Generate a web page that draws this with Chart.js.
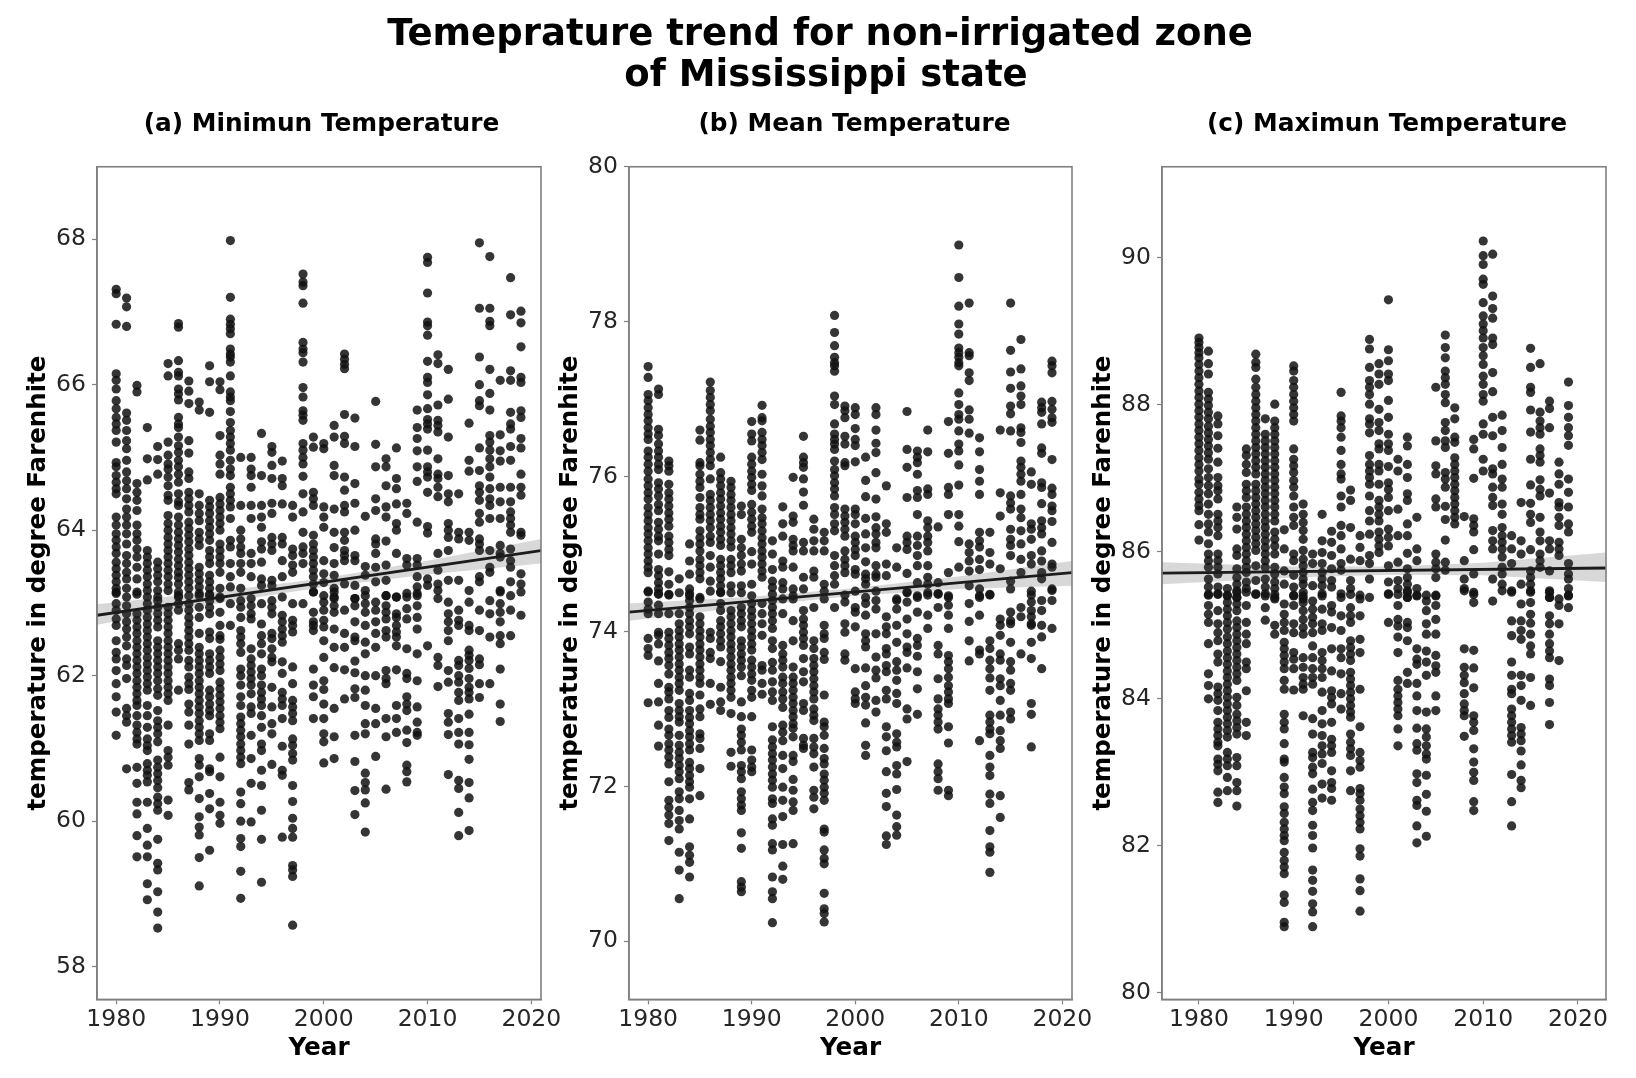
<!DOCTYPE html>
<html>
<head>
<meta charset="utf-8">
<script src="https://cdn.jsdelivr.net/npm/chart.js@4"></script>
<style>
html,body{margin:0;padding:0;background:#fff;width:1636px;height:1078px;overflow:hidden}
#wrap{position:relative;width:1636px;height:1078px;overflow:hidden;filter:blur(0.6px)}
canvas{position:absolute;top:0}
.sup{position:absolute;left:0;width:1640px;text-align:center;font:bold 37px "DejaVu Sans";color:#000;line-height:41px}
.sup span{position:relative;left:6px}
</style>
</head>
<body>
<div id="wrap">
<div class="sup" style="top:12px;z-index:5">Temeprature trend for non-irrigated zone<br><span>of Mississippi state</span></div>
<canvas id="c0" width="643" height="1078" style="left:0"></canvas>
<canvas id="c1" width="645" height="1078" style="left:532px"></canvas>
<canvas id="c2" width="644" height="1078" style="left:1065px"></canvas>
</div>
<script>
const suptitle = "Temeprature trend for non-irrigated zone of Mississippi state";
const years = [1980,1981,1982,1983,1984,1985,1986,1987,1988,1989,1990,1991,1992,1993,1994,1995,1996,1997,1998,1999,2000,2001,2002,2003,2004,2005,2006,2007,2008,2009,2010,2011,2012,2013,2014,2015,2016,2017,2018,2019];
const panelTitles = ["(a) Minimun Temperature","(b) Mean Temperature","(c) Maximun Temperature"];
const xLabel = "Year";
const yLabel = "temperature in degree Farenhite";

const minTemp = [
[67.31,67.25,66.83,66.15,66.06,65.94,65.78,65.67,65.55,65.46,65.37,65.21,64.93,64.87,64.75,64.66,64.57,64.5,64.18,64.07,63.95,63.86,63.77,63.68,63.56,63.47,63.38,63.29,63.2,63.13,63.15,62.99,62.9,62.78,62.69,62.48,62.32,62.23,62.07,61.89,61.71,61.5,61.18],
[67.19,67.07,66.8,65.61,65.51,65.37,65.23,65.12,64.96,64.8,64.68,64.57,64.43,64.29,64.18,64.07,63.95,63.81,63.65,63.54,63.42,63.33,63.2,63.08,62.96,62.85,62.74,62.64,62.53,62.41,62.23,62.14,61.96,61.55,61.45,61.36,60.72],
[65.99,65.9,64.64,64.52,64.41,64.27,64.07,63.95,63.86,63.74,63.63,63.49,63.33,63.15,63.12,62.85,62.76,62.67,62.58,62.48,62.39,62.3,62.21,62.12,62.03,61.93,61.84,61.75,61.66,61.59,61.45,61.32,61.22,61.13,61.06,60.74,60.52,60.26,60.1,59.8,59.51],
[65.41,64.98,64.69,63.72,63.63,63.54,63.45,63.36,63.26,63.17,63.08,62.99,62.9,62.8,62.71,62.62,62.53,62.44,62.35,62.25,62.16,62.07,61.98,61.89,61.8,61.59,61.45,61.29,61.13,61.04,60.97,60.79,60.7,60.63,60.54,60.26,59.9,59.67,59.51,59.14,58.92],
[65.15,64.97,64.77,63.56,63.47,63.38,63.29,63.17,63.08,63.03,62.94,62.85,62.76,62.67,62.48,62.39,62.3,62.21,62.12,62.03,61.93,61.82,61.73,61.52,61.38,61.29,61.2,61.09,60.84,60.74,60.65,60.56,60.46,60.33,60.24,60.15,59.75,59.42,59.33,59.03,58.75,58.53],
[66.29,66.12,65.21,65.03,64.91,64.84,64.73,64.61,64.48,64.41,64.2,64.09,64.0,63.9,63.81,63.72,63.63,63.54,63.45,63.36,63.26,63.17,62.94,62.85,62.76,62.67,62.58,62.48,62.39,62.3,62.21,62.12,62.03,61.93,61.84,61.75,61.66,61.32,60.97,60.88,60.77,60.29,60.08],
[66.84,66.79,66.33,66.17,66.12,65.94,65.87,65.79,65.55,65.46,65.41,65.28,65.16,65.07,64.96,64.87,64.77,64.66,64.5,64.39,64.34,64.18,64.07,63.97,63.88,63.79,63.7,63.6,63.51,63.42,63.35,63.26,63.15,63.08,63.1,62.99,62.9,62.44,62.35,62.23,61.8],
[66.05,65.91,65.74,65.23,65.06,64.8,64.71,64.52,64.43,64.34,64.25,64.11,64.02,63.93,63.84,63.74,63.65,63.56,63.47,63.38,63.29,63.2,63.1,62.99,62.9,62.8,62.71,62.62,62.53,62.44,62.35,62.21,62.12,61.98,61.89,61.81,61.61,61.5,61.32,61.06,60.53,60.43],
[65.76,65.65,64.5,64.34,64.23,64.13,63.97,63.88,63.79,63.49,63.4,63.31,63.22,63.13,63.1,62.94,62.8,62.58,62.39,62.3,62.21,62.12,62.03,61.93,61.84,61.75,61.66,61.57,61.48,61.38,61.29,61.2,61.11,60.86,60.77,60.61,60.31,60.06,59.92,59.81,59.5,59.11],
[66.26,66.04,65.62,64.41,64.32,64.23,64.13,64.04,63.95,63.86,63.72,63.63,63.54,63.38,63.29,63.2,63.1,63.12,63.03,62.94,62.85,62.6,62.51,62.3,62.21,62.12,62.03,61.8,61.71,61.61,61.52,61.45,61.2,61.11,60.72,60.68,60.38,60.17,59.6],
[66.04,65.93,65.3,65.03,64.91,64.77,64.45,64.36,64.27,64.18,64.09,64,63.81,63.72,63.63,63.54,63.42,63.2,63.08,63.06,62.87,62.69,62.55,62.5,62.35,62.25,62.16,62.07,61.91,61.82,61.73,61.64,61.55,61.45,61.36,61.27,60.88,60.61,60.26,60.08,59.97],
[67.98,67.2,66.9,66.83,66.77,66.7,66.49,66.42,66.38,66.31,66.12,65.9,65.83,65.78,65.63,65.48,65.37,65.28,65.19,65.1,64.96,64.84,64.75,64.59,64.5,64.41,64.32,64.16,63.86,63.77,63.54,63.36,63.22,62.99,62.69],
[65,64.34,64,63.88,63.77,63.68,63.54,63.42,63.2,63.03,62.94,62.8,62.62,62.53,62.44,62.32,62.09,62,61.87,61.71,61.59,61.43,61.34,61.25,61.16,61.06,60.97,60.88,60.79,60.4,60.24,60,59.76,59.65,59.31,58.94],
[65,64.84,64.75,64.59,64.34,64.16,63.68,63.54,63.36,63.06,62.96,62.85,62.78,62.37,62.23,62.14,62.05,61.96,61.87,61.75,61.57,61.48,61.18,60.86,60.52,59.99],
[65.33,64.75,64.34,64.18,64.04,63.84,63.74,63.56,63.33,63.24,62.99,62.71,62.55,62.44,62.3,62.09,62,61.87,61.77,61.68,61.59,61.45,61.29,61.06,60.97,60.7,60.49,60.15,59.75,59.16],
[65.15,65.07,64.89,64.71,64.37,64.23,63.9,63.81,63.72,63.31,63.24,63.03,62.94,62.85,62.58,62.51,62.37,62.25,62.19,61.84,61.57,61.34,61.2,60.78],
[64.95,64.71,64.61,64.36,63.9,63.81,63.58,63.36,63.08,62.83,62.74,62.64,62.55,62.46,62.19,62.03,61.77,61.68,61.59,61.41,61.03,60.7,60.63,59.78],
[64.34,64.18,63.74,63.65,63.52,63.42,62.99,62.76,62.69,62.6,62.12,61.89,61.66,61.57,61.48,61.38,61.13,61.04,60.93,60.84,60.49,60.27,60.04,59.9,59.78,59.39,59.33,59.24,58.57],
[67.52,67.41,67.36,67.12,66.58,66.49,66.44,66.31,65.96,65.83,65.64,65.58,65.51,65.19,65.1,65.0,64.91,64.74,64.5,64.25,63.97,63.77,63.68,63.54,62.99],
[65.28,65.14,64.52,64.43,64.34,63.93,63.81,63.72,63.63,63.54,63.45,63.36,63.26,63.15,63.15,62.87,62.74,62.69,62.62,62.09,61.87,61.71,61.41],
[65.19,65.12,64.32,64.18,64.04,63.58,63.4,63.28,63.1,63.01,62.9,62.76,62.67,62.48,62.25,61.93,61.81,61.61,61.41,61.2,61.09,60.8],
[65.44,65.28,64.89,64.75,64.29,63.97,63.76,63.54,63.38,63.2,63.08,63.15,63.06,62.96,62.87,62.64,62.39,62.11,61.55,61.16,60.86],
[66.42,66.35,66.28,66.22,65.59,65.29,65.19,64.73,64.55,64.34,64.25,63.97,63.86,63.72,63.65,63.58,63.26,62.9,62.58,62.39,62.08,61.68],
[65.54,65.15,64.64,64.37,64,63.65,63.58,63.24,63.06,63.06,62.96,62.74,62.53,62.48,62.2,62.04,61.82,61.7,61.18,60.82,60.42,60.09],
[64.19,63.5,63.38,63.17,63.1,62.99,62.87,62.69,62.46,62.3,62,61.8,61.59,61.34,61.2,60.66,60.53,60.43,60.25,59.85],
[65.77,65.18,64.87,64.43,64.27,63.88,63.81,63.68,63.49,63.29,63.01,62.9,62.74,62.58,62.39,62.0,61.55,61.34,60.89],
[64.98,64.87,64.61,64.32,64.18,63.85,63.52,63.31,63.1,63.1,62.96,62.87,62.78,62.62,62.53,62.07,61.96,61.89,61.41,61.16,60.44],
[65.13,64.71,64.57,64.36,64.09,64,63.68,63.08,63.08,62.85,62.8,62.69,62.6,62.53,62.41,62.08,61.59,61.41,61.22],
[64.37,64.23,63.61,63.52,63.13,63.08,62.92,62.78,62.37,62.03,61.96,61.71,61.61,61.52,61.25,61.08,60.77,60.68,60.54],
[65.65,65.41,65.26,65.09,64.87,64.67,64.11,63.61,63.52,63.36,63.22,63.13,63.1,62.96,62.8,62.64,62.3,61.93,61.57,61.36,61.22,61.18],
[67.75,67.68,67.26,66.86,66.81,66.68,66.32,66.1,66.03,65.86,65.67,65.52,65.46,65.39,65.1,64.87,64.8,64.73,64.52,64.05,63.96,63.33,63.24,62.41],
[66.41,66.29,65.72,65.51,65.44,65.35,64.98,64.77,64.71,64.59,64.46,63.68,63.45,63.26,63.17,63.06,62.25,62.14,61.85],
[66.21,65.8,65.28,64.75,64.5,64.39,64.09,64,63.9,63.72,63.31,63.01,62.85,62.74,62.62,62.48,62.07,61.91,61.48,61.36,61.19,60.64],
[64.5,63.97,63.88,63.31,62.9,62.76,62.69,62.21,62.14,62,61.91,61.77,61.66,61.41,61.22,61.06,60.56,60.45,60.12,59.8],
[65.47,64.96,64.81,63.97,63.86,63.17,63.01,62.69,62.62,62.35,62.28,62.21,62.1,61.96,61.84,61.77,61.68,61.47,61.22,61.05,60.85,60.53,60.32,59.87],
[67.95,67.05,66.38,66,65.78,65.71,65.13,64.82,64.61,64.52,64.41,64.23,64.11,63.88,63.81,63.72,63.36,63.29,62.9,62.62,62.23,62.15,61.89,61.7],
[67.76,67.05,66.87,66.81,66.21,65.88,65.65,65.3,65.21,65.1,64.98,64.87,64.73,64.57,64.43,64.34,64.16,63.72,63.49,63.42,63.03,62.85,62.53,61.89],
[66.06,65.31,65.09,64.95,64.59,64.39,64.16,63.79,63.68,63.63,63.17,63.15,62.99,62.87,62.74,62.55,62.44,62.09,61.61,61.37],
[67.47,66.96,66.19,66.06,65.62,65.46,65.39,65.15,64.96,64.59,64.39,64.25,64.16,64.07,63.97,63.74,63.58,63.49,63.29,63.1,62.9,62.55],
[67.01,66.85,66.52,66.1,66.03,65.64,65.55,65.26,65.13,64.77,64.59,64.48,63.97,63.93,63.4,63.26,63.15,62.83]
];

const meanTemp = [
[77.42,77.28,77.06,76.98,76.89,76.8,76.72,76.63,76.55,76.48,76.33,76.25,76.16,76.07,75.97,75.88,75.79,75.71,75.6,75.51,75.43,75.34,75.26,75.17,75.08,75,74.91,74.83,74.76,74.52,74.51,74.38,74.29,74.23,73.91,73.78,73.69,73.08],
[77.13,77.06,76.61,76.53,76.42,76.33,76.25,76.16,76.09,75.92,75.84,75.75,75.64,75.56,75.41,75.32,75.23,75.17,75,74.8,74.72,74.63,74.55,74.48,74.49,74.34,74.23,73.99,73.95,73.84,73.62,73.33,73.09,72.79,72.52],
[76.2,76.14,76.07,75.9,75.79,75.71,75.62,75.53,75.45,75.36,75.23,75.15,75.06,74.98,74.77,74.61,74.48,74.47,74.23,73.99,73.91,73.82,73.73,73.65,73.56,73.45,73.28,73.22,73.13,72.98,72.89,72.74,72.66,72.55,72.47,72.38,72.29,72.06,71.82,71.73,71.63,71.52,71.3],
[74.68,74.5,74.23,74.1,74.01,73.93,73.84,73.76,73.67,73.58,73.5,73.41,73.33,73.24,73.07,72.98,72.9,72.83,72.66,72.53,72.44,72.36,72.27,72.19,72.1,71.93,71.84,71.69,71.56,71.45,71.15,70.92,70.55],
[75.13,74.91,74.74,74.55,74.46,74.49,74.4,74.31,74.23,74.14,74.06,73.97,73.8,73.71,73.5,73.41,73.2,73.11,72.98,72.89,72.81,72.72,72.64,72.55,72.47,72.31,72.23,72.14,72.06,71.99,71.84,71.58,71.22,71.11,71.02,70.83],
[76.6,76.47,76.18,76.14,76.03,75.94,75.86,75.73,75.6,75.51,75.45,75.3,75.21,75.13,75.04,74.93,74.85,74.76,74.68,74.42,74.44,74.19,74.1,74.01,73.93,73.84,73.76,73.67,73.58,73.5,73.41,73.33,73.18,73,72.9,72.68,72.62,72.49,72.23,71.88],
[77.22,77.11,77.02,76.93,76.85,76.74,76.65,76.57,76.48,76.4,76.31,76.22,76.14,75.97,75.77,75.69,75.6,75.51,75.43,75.34,75.23,75.15,74.98,74.83,74.65,74.52,73.99,73.91,73.73,73.65,73.33,73.06],
[76.25,76.05,75.97,75.88,75.79,75.71,75.62,75.53,75.45,75.36,75.28,75.19,75.11,74.93,74.85,74.76,74.68,74.59,74.5,74.51,74.36,74.27,74.14,74.06,73.97,73.88,73.8,73.61,73.28,73.09,72.98],
[75.94,75.86,75.77,75.69,75.6,75.51,75.43,75.34,75.26,75.17,75.09,74.93,74.85,74.76,74.59,74.5,74.27,74.19,74.1,74.01,73.93,73.84,73.76,73.67,73.58,73.5,73.41,73.33,73.24,73.15,72.94,72.44,72.26],
[75.62,75.51,75.19,75.08,74.98,74.87,74.78,74.59,74.5,74.31,74.23,74.14,74.06,73.88,73.8,73.71,73.63,73.54,73.43,73.09,72.9,72.74,72.66,72.57,72.47,72.27,72.19,72.1,71.93,71.84,71.76,71.69,71.4,71.2,70.77,70.7,70.64],
[76.71,76.55,76.46,76.25,76.16,76.07,75.99,75.9,75.82,75.64,75.54,75.45,75.36,75.28,75.03,74.87,74.61,74.46,74.36,74.27,74.19,74.1,74.01,73.93,73.84,73.76,73.63,73.54,73.45,73.37,73.24,73.15,72.9,72.47,72.34,72.25,72.19],
[76.92,76.76,76.72,76.57,76.48,76.4,76.31,76.22,76.03,75.88,75.75,75.58,75.47,75.39,75.3,75.21,75.13,75.04,74.96,74.87,74.78,74.7,74.36,74.23,74.1,73.95,73.56,73.5,73.33,73.19],
[75.17,75,74.8,74.65,74.57,74.48,74.4,74.31,74.23,74.14,74.04,73.88,73.78,73.6,73.5,73.35,73.22,73.11,72.77,72.6,72.51,72.42,72.34,72.25,72.16,72.08,71.99,71.84,71.78,71.58,71.5,71.26,71.18,70.83,70.64,70.55,70.24],
[75.61,75.39,75.23,74.91,74.83,74.63,74.55,74.42,74.23,73.82,73.71,73.63,73.54,73.41,73.33,73.22,73.13,73.02,72.79,72.7,72.59,72.4,72.23,71.99,71.82,71.61,71.25,70.97,70.8],
[75.99,75.49,75.41,75.19,75.11,75.04,74.83,74.55,74.46,74.42,74.14,73.88,73.54,73.41,73.33,73.24,73.15,73.07,72.98,72.9,72.81,72.75,72.64,72.4,72.32,72.09,71.95,71.8,71.69,71.26],
[76.52,76.25,76.18,76.12,75.97,75.8,75.63,75.15,75.04,74.7,74.55,74.27,74.16,74.08,73.99,73.91,73.82,73.65,73.48,73.35,73.07,72.98,72.62,72.53,72.49],
[75.45,75.32,75.17,75.04,74.78,74.7,74.31,73.88,73.78,73.65,73.56,73.48,73.39,73.3,73.22,73.13,73,72.92,72.85,72.62,72.51,72.42,72.25,71.95,71.86,71.71],
[75.28,75.17,75.04,74.61,74.52,74.42,74.08,73.97,73.91,73.73,73.64,73.18,72.83,72.77,72.66,72.49,72.36,72.29,72.16,72.08,71.99,71.91,71.82,71.45,71.41,71.18,71.07,71,70.62,70.42,70.36,70.25],
[78.08,77.86,77.69,77.54,77.47,77.43,77.36,77.04,76.93,76.68,76.55,76.48,76.42,76.35,76.2,76.09,76.01,75.92,75.84,75.75,75.6,75.51,75.39,75.3,74.98,74.85,74.72,74.61,74.31],
[76.91,76.85,76.76,76.52,76.42,76.18,76.14,75.58,75.49,75.41,75.32,75.23,75.04,74.93,74.85,74.76,74.47,74.38,74.1,73.99,73.71,73.63],
[76.89,76.8,76.62,76.48,76.4,76.19,75.58,75.51,75.39,75.23,75.15,75.06,74.98,74.8,74.74,74.52,74.31,74.25,74.06,73.52,73.22,73.13,73.07],
[76.25,75.95,75.74,75.46,75.26,75.08,74.9,74.74,74.68,74.61,74.44,74.36,74.21,73.97,73.88,73.8,73.53,73.3,73.15,73.05,72.82,72.53,72.4],
[76.89,76.8,76.6,76.43,76.31,76.05,75.71,75.48,75.34,75.26,75.15,75.08,74.85,74.74,74.7,74.52,74.4,74.29,73.97,73.67,73.5,73.4,73.11,72.96],
[75.88,75.39,75.28,74.87,74.72,74.19,74.06,73.97,73.78,73.71,73.56,73.48,73.24,73.13,72.77,72.64,72.46,72.19,71.91,71.74,71.36,71.25],
[75.08,74.83,74.42,74.4,74.29,74.08,73.86,73.61,73.5,73.37,73.2,73.07,72.68,72.57,72.51,72.27,72.16,71.96,71.63,71.48,71.37],
[76.84,76.35,76.12,75.73,75.23,75.15,75.06,74.75,74.5,74.51,74.38,74.16,73.97,73.8,73.73,73.53,73,72.87,72.32],
[76.33,76.25,76.18,76.03,75.82,75.73,75.51,75.23,75.11,74.98,74.85,74.63,74.46,74.44,74.25,73.91,73.82,73.68,73.48,73.26,72.93],
[76.6,76.32,75.84,75.77,75.43,75.34,75.23,75.15,75.04,74.85,74.7,74.61,74.5,74.47,74.21,74.04],
[75.35,74.63,74.48,74.49,74.31,73.82,73.71,73.39,73.13,73,72.92,72.83,72.74,72.29,72.19,72.1,71.95],
[76.71,76.3,75.86,75.77,75.51,74.76,74.46,74.44,74.34,74.21,74.04,73.69,73.61,73.52,73.41,73.3,73.22,73.13,73.07,72.77,72.56,71.95,71.88],
[78.99,78.57,78.2,77.97,77.84,77.66,77.6,77.54,77.47,77.43,77.08,76.93,76.8,76.74,76.59,76.42,76.33,76.15,75.89,75.51,75.36,75.16,74.83],
[78.24,77.6,77.56,77.34,77.24,76.86,76.74,76.56,75.13,75.02,74.91,74.78,74.59,74.36,74.13,73.88,73.62],
[76.5,76.32,76.09,75.94,75.77,75.28,75.17,75.09,74.93,74.8,74.55,74.46,74.44,74.21,73.76,73.71,72.59],
[75.28,75.02,74.87,74.48,74.47,73.88,73.78,73.63,73.52,73.4,73.24,72.92,72.83,72.74,72.68,72.4,72.25,72.14,71.9,71.78,71.43,71.22,71.15,70.89],
[76.6,75.79,75.49,74.81,74.16,74.08,73.95,73.71,73.63,73.39,73.3,73.11,72.92,72.72,72.59,72.49,71.88,71.6],
[78.24,77.63,77.35,77.14,76.91,76.81,76.59,75.75,75.66,75.58,75.32,75.19,75.11,74.98,74.65,74.55,74.25,74.14,74.1,73.86,73.61,73.5,73.33,73.24,72.96,72.87],
[77.77,77.39,77.17,77.04,76.93,76.63,76.57,76.44,76.2,76.12,76.03,75.94,75.77,75.58,75.47,75.3,75.13,74.93,74.76,74.31,74.19,73.71],
[76.06,75.9,75.39,75.32,75.19,74.98,74.87,74.52,74.47,74.38,74.27,74.19,74.1,74.08,73.86,73.65,73.07,72.93,72.51],
[76.96,76.89,76.83,76.68,76.37,76.3,75.92,75.86,75.65,75.43,75.34,75.26,75.04,74.91,74.76,74.68,74.4,74.27,74.08,73.93,73.52],
[77.49,77.43,77.34,76.97,76.87,76.76,76.7,76.22,75.85,75.77,75.62,75.56,75.42,75.15,74.87,74.83,74.55,74.53,74.4,74.04]
];

const maxTemp = [
[88.91,88.85,88.78,88.71,88.64,88.55,88.46,88.37,88.28,88.19,88.1,88.01,87.92,87.83,87.74,87.65,87.56,87.47,87.38,87.28,87.19,87.1,86.99,86.92,86.81,86.72,86.63,86.56,86.37,86.16],
[88.73,88.56,88.42,88.17,88.08,87.99,87.9,87.81,87.71,87.62,87.53,87.44,87.35,87.26,87.13,87.01,86.9,86.79,86.65,86.51,86.38,86.27,86.11,85.97,85.88,85.79,85.63,85.52,85.41,85.42,85.27,85.15,85.04,84.75,84.34,84.18,84.0],
[87.85,87.74,87.58,87.41,87.22,87.01,86.9,86.83,86.72,86.51,86.42,86.33,86.22,85.97,85.88,85.79,85.7,85.52,85.43,85.42,85.2,85.02,84.9,84.79,84.61,84.5,84.16,84.07,83.98,83.84,83.68,83.59,83.5,83.41,83.36,83.18,83.11,83.02,82.73,82.59],
[85.5,85.41,85.4,85.31,85.22,85.13,85.04,84.95,84.84,84.75,84.65,84.56,84.47,84.38,84.29,84.2,84.11,84.02,83.93,83.84,83.75,83.66,83.57,83.48,83.27,83.18,83.09,82.93,82.75],
[86.61,86.47,86.31,86.04,85.95,85.77,85.65,85.56,85.47,85.38,85.45,85.38,85.29,85.2,85.06,84.97,84.88,84.79,84.7,84.61,84.52,84.43,84.34,84.25,84.02,83.91,83.79,83.7,83.61,83.52,83.2,83.09,82.86,82.75,82.54],
[87.4,87.31,87.19,87.08,86.92,86.83,86.74,86.61,86.51,86.42,86.33,86.24,86.15,86.06,85.97,85.88,85.79,85.72,85.59,85.5,85.45,85.27,85.04,84.88,84.75,84.5,84.41,84.11,83.68,83.5],
[88.69,88.58,88.51,88.35,88.24,88.14,88.05,87.96,87.87,87.78,87.69,87.6,87.51,87.42,87.33,87.24,87.15,87.06,86.92,86.83,86.74,86.65,86.56,86.47,86.38,86.29,86.2,86.11,86.02,85.81,85.61,85.43,85.42],
[87.81,87.6,87.51,87.42,87.33,87.24,87.15,87.06,86.97,86.88,86.79,86.7,86.61,86.51,86.42,86.33,86.24,86.15,86.06,85.97,85.88,85.79,85.63,85.52,85.43,85.4,85.24,85.07],
[88.01,87.78,87.69,87.6,87.51,87.42,87.33,87.24,87.15,87.06,86.97,86.88,86.79,86.7,86.61,86.51,86.42,86.27,86.17,86.08,85.97,85.79,85.7,85.59,85.5,85.38,85.42,85.36,85,84.88],
[86.3,86.04,85.74,85.56,85.29,85.15,85.04,84.93,84.77,84.68,84.59,84.5,84.41,84.25,84.13,83.79,83.68,83.59,83.39,83.18,83.14,82.93,82.8,82.71,82.53,82.44,82.32,82.23,82.14,82.07,81.91,81.8,81.71,81.62,81.33,81.23,80.96,80.9],
[88.53,88.46,88.33,88.24,88.14,88.05,87.96,87.87,87.78,87.4,87.26,87.17,87.08,86.97,86.88,86.76,86.61,86.47,86.36,85.97,85.88,85.68,85.52,85.41,85.4,85.27,85.02,84.9,84.63,84.54,84.41,84.12],
[86.65,86.51,86.4,86.29,86.17,86.02,85.9,85.81,85.72,85.63,85.56,85.45,85.36,85.4,85.31,85.2,85.08,84.97,84.88,84.56,84.43,84.29,84.2,84.13,83.77],
[85.97,85.84,85.54,85.33,85.22,85.11,85.02,84.9,84.72,84.56,84.41,84.29,84.2,83.73,83.52,83.27,83.2,83.07,82.98,82.77,82.59,82.48,82.28,82.14,81.97,81.67,81.53,81.38,81.21,81.1,80.9],
[86.51,86.15,85.99,85.84,85.72,85.63,85.54,85.43,85.4,85.22,85.02,84.93,84.63,84.52,84.41,84.29,84.09,83.84,83.66,83.5,83.36,83.25,83.12,82.84,82.65],
[86.28,86.13,85.95,85.77,85.61,85.52,85.27,85.18,84.97,84.68,84.38,84.11,84.02,83.93,83.68,83.45,83.36,83.27,83.02,82.86,82.78,82.62],
[88.17,87.85,87.78,87.69,87.56,87.38,87.19,87.06,86.99,86.76,86.61,86.36,86.22,86.04,85.84,85.75,85.43,85.38,85.13,84.93,84.68,84.56,84.34,84.07,83.86],
[86.84,86.7,86.33,85.9,85.61,85.5,85.42,85.24,85.13,85.04,84.79,84.7,84.61,84.52,84.36,84.27,84.18,84.09,84,83.91,83.82,83.75,83.52,83.41,83.32,83.23,83.02,82.75],
[86.22,86.06,85.88,85.41,85.36,85.13,84.81,84.63,84.13,83.62,83.27,83.16,83.07,82.78,82.71,82.62,82.5,82.41,82.32,82.23,81.96,81.86,81.55,81.39,81.11],
[88.89,88.76,88.51,88.33,88.24,88.14,88.01,87.81,87.74,87.62,87.31,87.19,87.1,87.01,86.92,86.76,86.56,86.42,86.24,85.95,85.84,85.63,85.38],
[88.56,88.42,88.28,87.94,87.76,87.65,87.47,87.4,87.19,87.1,86.92,86.7,86.61,86.51,86.42,86.27,86.17,86.08,85.99],
[89.43,88.75,88.6,88.42,88.33,88.06,87.83,87.6,87.47,87.38,87.16,86.94,86.85,86.74,86.56,86.31,86.2,86.08,85.81,85.59,85.43,85.42,85.04],
[87.26,87.1,86.58,86.22,85.86,85.61,85.5,85.42,85.27,85.08,84.99,84.84,84.63,84.25,84.13,84.04,83.95,83.86,83.77,83.59,83.36],
[87.56,87.44,87.19,87.01,86.79,86.7,86.38,86.22,85.98,85.77,85.65,85.56,85.47,85.38,85.45,85.38,85.04,84.97,84.79,84.36,84.21],
[86.47,86.04,85.88,85.5,85.41,85.4,84.68,84.54,84.47,84.21,84.04,83.84,83.6,83.39,83.3,82.98,82.86,82.62,82.55,82.27,82.04],
[85.41,85.33,85.2,85.02,84.88,84.65,84.5,84.32,83.82,83.59,83.48,83.36,83.25,83.18,82.96,82.7,82.47,82.13],
[88.24,87.51,87.17,87.06,86.72,86.61,85.97,85.86,85.77,85.65,85.41,85.4,85.27,85.08,84.88,84.59,84.45,84.36,84.04,83.84],
[88.95,88.78,88.64,88.46,88.37,88.28,88.14,88.03,87.76,87.65,87.51,87.42,87.08,86.99,86.88,86.62,86.44,86.16,85.86,85.75],
[87.96,87.81,87.56,87.49,87.28,87.19,87.1,87.01,86.92,86.83,86.74,86.65,86.56,86.47,86.38],
[86.48,85.88,85.63,85.5,85.47,84.68,84.43,84.32,84.22,84.07,83.93,83.84,83.77,83.49],
[87.53,87.4,87,86.45,86.36,86.27,86.03,85.7,85.45,85.42,85.31,84.66,84.42,84.15,83.77,83.68,83.57,83.32,83.14,83,82.89,82.6,82.48],
[90.23,90.03,89.91,89.71,89.64,89.39,89.21,89.1,89.01,88.91,88.78,88.67,88.55,88.39,88.28,88.14,88.05,87.74,87.6,87.26,87.1],
[90.05,89.48,89.31,89.18,88.91,88.82,88.44,88.18,87.83,87.58,87.13,87.06,86.88,86.74,86.63,86.29,86.15,86.04,85.63,85.33],
[87.86,87.65,87.42,87.19,86.99,86.88,86.65,86.51,86.33,86.22,86.13,86.04,85.93,85.79,85.7,85.56,85.47],
[86.22,86.04,85.84,85.47,85.45,85.06,84.86,84.5,84.32,84.13,84.07,83.86,83.77,83.68,83.59,83.5,83.41,82.97,82.6,82.27],
[86.67,86.15,85.97,85.56,85.29,85.06,84.93,84.81,84.32,84.18,83.98,83.61,83.52,83.43,83.29,83.1,82.89,82.79],
[88.77,88.51,88.24,88.17,87.93,87.63,87.26,86.91,86.66,86.51,86.4,86.03,85.74,85.65,85.56,85.47,85.45,85.31,85.15,85.03,84.88,84.72,84.61,84.29,83.91],
[88.56,87.9,87.78,87.69,87.6,87.4,87.31,87.22,86.98,86.85,86.76,86.47,86.27,86.15,85.97,85.88,85.79],
[88.05,87.95,87.69,86.8,86.15,86.04,85.74,85.47,85.38,85.45,85.38,85.13,85.02,84.88,84.75,84.65,84.56,84.27,84.18,83.95,83.65],
[87.22,87.06,86.92,86.67,86.61,86.47,86.36,86.13,86.04,85.95,85.36,85.27,85.02,84.52],
[88.31,87.99,87.83,87.69,87.58,87.45,86.99,86.81,86.61,86.38,86.27,85.84,85.7,85.63,85.5,85.41,85.4,85.24]
];

// regression fit and confidence band
const fitYearsA = [1978.15,2020.93];
const fitYearsB = [1978.15,2020.93];
const fitYearsC = [1976.1,2022.96];
const fitMin = [62.83,63.72];
const fitMean = [74.25,74.76];
const fitMax = [85.71,85.78];
const bandYearsA = [1978.15,1990,2000,2010,2020.93];
const bandYearsB = [1978.15,1990,2000,2010,2020.93];
const bandYearsC = [1976.1,1990,2000,2010,2022.96];
const bandMinHi = [62.98,63.16,63.34,63.58,63.88];
const bandMinLo = [62.70,63.00,63.22,63.39,63.54];
const bandMeanHi = [74.36,74.45,74.56,74.71,74.91];
const bandMeanLo = [74.14,74.33,74.46,74.55,74.59];
const bandMaxHi = [85.86,85.80,85.80,85.85,85.99];
const bandMaxLo = [85.56,85.65,85.69,85.68,85.59];

const FONT = '"DejaVu Sans"';
const borderPlugin = {
  id:'frame',
  afterDatasetsDraw(c){
    const a=c.chartArea, g=c.ctx;
    g.save(); g.strokeStyle='#808080'; g.lineWidth=1.6;
    g.strokeRect(a.left,a.top,a.right-a.left,a.bottom-a.top);
    g.restore();
  }
};
const zip=(xs,ys)=>xs.map((x,i)=>({x,y:ys[i]}));

function panel(id,title,values,fx,fy,bx,hi,lo,xr,yr,padRight){
  const pts=[];
  years.forEach((yr_,i)=>values[i].forEach(v=>pts.push({x:yr_,y:v})));
  new Chart(document.getElementById(id),{
    type:'scatter',
    plugins:[borderPlugin],
    data:{datasets:[
      {data:pts,order:3,pointRadius:4.6,pointHoverRadius:4.6,backgroundColor:'rgba(18,18,18,0.85)',borderWidth:0,showLine:false},
      {data:zip(bx,hi),order:2,showLine:true,pointRadius:0,borderWidth:0,borderColor:'rgba(0,0,0,0)',backgroundColor:'rgba(0,0,0,0)',tension:0},
      {data:zip(bx,lo),order:1,showLine:true,pointRadius:0,borderWidth:0,borderColor:'rgba(0,0,0,0)',backgroundColor:'rgba(60,60,60,0.2)',fill:'-1',tension:0},
      {data:zip(fx,fy),order:0,showLine:true,pointRadius:0,borderWidth:2.8,borderColor:'#1c1c1c',tension:0}
    ]},
    options:{
      responsive:false,animation:false,devicePixelRatio:1,
      layout:{padding:0},
      plugins:{
        legend:{display:false},tooltip:{enabled:false},
        title:{display:true,text:title,color:'#000',font:{family:FONT,size:24.8,weight:'bold',lineHeight:1.2},padding:{top:110,bottom:27}}
      },
      scales:{
        x:{type:'linear',min:xr[0],max:xr[1],
          afterFit(s){s.height=78.6;},
          border:{display:true,color:'#808080',width:1.6},
          grid:{display:true,drawOnChartArea:false,drawTicks:true,tickLength:5,tickColor:'#808080',tickWidth:1.2},
          ticks:{stepSize:10,includeBounds:false,maxRotation:0,autoSkip:false,color:'#262626',padding:1,font:{family:FONT,size:23.5},callback:v=>String(v)},
          title:{display:true,text:xLabel,color:'#000',font:{family:FONT,size:24.7,weight:'bold',lineHeight:1.2},padding:{top:0,bottom:15}}
        },
        y:{type:'linear',min:yr[0],max:yr[1],
          afterFit(s){s.width=97;},
          border:{display:true,color:'#808080',width:1.6},
          grid:{display:true,drawOnChartArea:false,drawTicks:true,tickLength:5,tickColor:'#808080',tickWidth:1.2},
          ticks:{stepSize:2,includeBounds:false,color:'#262626',padding:6,font:{family:FONT,size:23.5},callback:v=>String(v)},
          title:{display:true,text:yLabel,color:'#000',font:{family:FONT,size:24.5,weight:'bold',lineHeight:1.2},padding:{top:24,bottom:0}}
        },
        pad:{position:'right',display:true,
          afterFit(s){s.width=padRight;},
          border:{display:false},grid:{display:false},ticks:{display:false},title:{display:false}
        }
      }
    }
  });
}
panel('c0',panelTitles[0],minTemp,fitYearsA,fitMin,bandYearsA,bandMinHi,bandMinLo,[1978.15,2020.93],[57.55,68.995],102);
panel('c1',panelTitles[1],meanTemp,fitYearsB,fitMean,bandYearsB,bandMeanHi,bandMeanLo,[1978.15,2020.93],[69.25,80],105);
panel('c2',panelTitles[2],maxTemp,fitYearsC,fitMax,bandYearsC,bandMaxHi,bandMaxLo,[1976.1,2022.96],[79.91,91.24],103);
</script>
</body>
</html>
